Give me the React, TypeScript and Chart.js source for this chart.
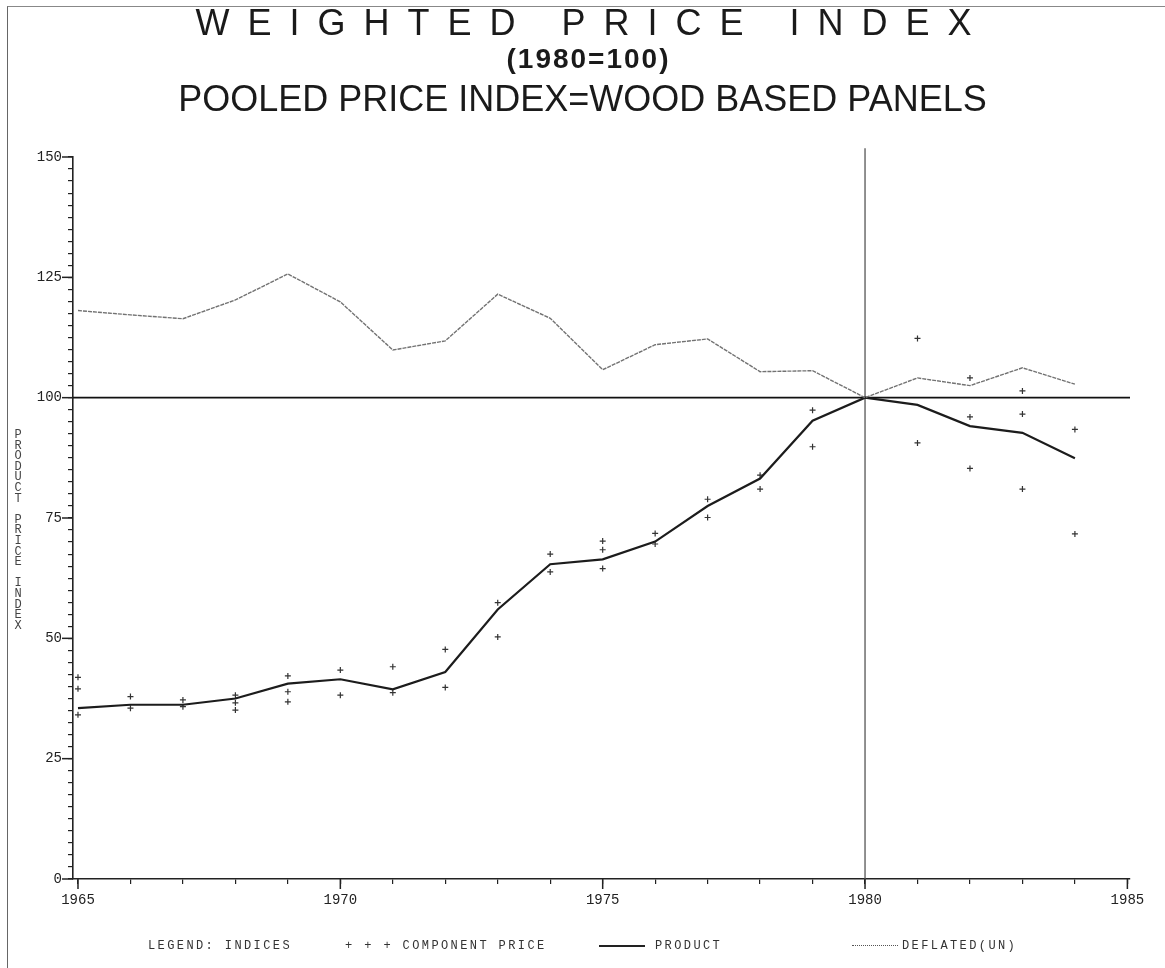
import React, { useEffect, useRef } from "react";
import { Chart, registerables } from "chart.js";

Chart.register(...registerables);

// ---- data ----
const years = [1965, 1966, 1967, 1968, 1969, 1970, 1971, 1972, 1973, 1974, 1975, 1976, 1977, 1978, 1979, 1980, 1981, 1982, 1983, 1984];
const productIndex = [35.5, 36.2, 36.2, 37.5, 40.6, 41.5, 39.4, 43.0, 56.0, 65.4, 66.4, 70.1, 77.5, 83.2, 95.2, 100, 98.5, 94.1, 92.7, 87.4];
const deflatedIndex = [118.1, 117.2, 116.4, 120.3, 125.7, 119.9, 109.9, 111.8, 121.5, 116.5, 105.8, 111.0, 112.2, 105.4, 105.6, 100, 104.1, 102.5, 106.2, 102.8];
const componentYears = [
  1965, 1965, 1965, 1966, 1966, 1967, 1967, 1968, 1968, 1968, 1969, 1969, 1969,
  1970, 1970, 1971, 1971, 1972, 1972, 1973, 1973, 1974, 1974, 1975, 1975, 1975,
  1976, 1976, 1977, 1977, 1978, 1978, 1979, 1979, 1981, 1981, 1982, 1982, 1982,
  1983, 1983, 1983, 1984, 1984,
];
const componentValues = [
  41.9, 39.5, 34.1, 37.9, 35.5, 37.2, 35.8, 38.2, 36.6, 35.1, 42.2, 38.9, 36.8,
  43.4, 38.2, 44.1, 38.7, 47.7, 39.8, 57.4, 50.3, 67.5, 63.8, 70.2, 68.4, 64.5,
  71.8, 69.6, 78.9, 75.1, 83.9, 81.0, 97.4, 89.8, 112.3, 90.6, 104.1, 96.0, 85.3,
  101.4, 96.6, 81.0, 93.4, 71.7,
];
const baseYear = [1980];
const baseValue = [100];
const xRange = [1964.905, 1985.05];
const yRange = [0, 150];
const yMajorTicks = [0, 25, 50, 75, 100, 125, 150];
const xMajorTicks = [1965, 1970, 1975, 1980, 1985];
const xTickYears = [1965, 1966, 1967, 1968, 1969, 1970, 1971, 1972, 1973, 1974, 1975, 1976, 1977, 1978, 1979, 1980, 1981, 1982, 1983, 1984, 1985];

const MONO = '"Liberation Mono", "DejaVu Sans Mono", monospace';
const SANS = '"Liberation Sans", Arial, sans-serif';

const majorTickPlugin = {
  id: "majorTicks",
  afterDraw(chart: any) {
    const { ctx, chartArea } = chart;
    const x = chart.scales.x;
    const y = chart.scales.y;
    ctx.save();
    ctx.strokeStyle = "#222";
    ctx.lineWidth = 1.5;
    yMajorTicks.forEach((v) => {
      const py = y.getPixelForValue(v);
      ctx.beginPath();
      ctx.moveTo(chartArea.left - 11, py);
      ctx.lineTo(chartArea.left, py);
      ctx.stroke();
    });
    xMajorTicks.forEach((v) => {
      const px = x.getPixelForValue(v);
      ctx.beginPath();
      ctx.moveTo(px, chartArea.bottom);
      ctx.lineTo(px, chartArea.bottom + 10);
      ctx.stroke();
    });
    ctx.restore();
  },
};

export default function App() {
  const canvasRef = useRef<HTMLCanvasElement | null>(null);

  useEffect(() => {
    if (!canvasRef.current) return;
    const chart = new Chart(canvasRef.current, {
      type: "line",
      data: {
        datasets: [
          {
            label: "DEFLATED(UN)",
            data: years.map((yr, i) => ({ x: yr, y: deflatedIndex[i] })),
            borderColor: "#727272",
            borderWidth: 1.4,
            borderDash: [4, 1],
            pointRadius: 0,
            tension: 0,
          },
          {
            label: "PRODUCT",
            data: years.map((yr, i) => ({ x: yr, y: productIndex[i] })),
            borderColor: "#1c1c1c",
            borderWidth: 2.2,
            pointRadius: 0,
            tension: 0,
          },
          {
            label: "COMPONENT PRICE",
            data: componentYears.map((yr, i) => ({ x: yr, y: componentValues[i] })),
            showLine: false,
            pointStyle: "cross",
            pointRadius: 3,
            pointBorderWidth: 1.2,
            borderColor: "#333",
            backgroundColor: "#333",
          },
          {
            label: "base 100",
            data: [
              { x: xRange[0], y: baseValue[0] },
              { x: xRange[1], y: baseValue[0] },
            ],
            borderColor: "#111",
            borderWidth: 1.6,
            pointRadius: 0,
          },
          {
            label: "base year",
            data: [
              { x: baseYear[0], y: yRange[0] },
              { x: baseYear[0], y: yRange[1] + 1.8 },
            ],
            borderColor: "#555",
            borderWidth: 1.3,
            pointRadius: 0,
            clip: false as any,
          },
        ],
      },
      options: {
        animation: false,
        responsive: false,
        maintainAspectRatio: false,
        layout: { padding: { top: 157, right: 35, left: 0, bottom: 0 } },
        plugins: {
          legend: { display: false },
          tooltip: { enabled: false },
          title: { display: false },
        },
        scales: {
          x: {
            type: "linear",
            min: xRange[0],
            max: xRange[1],
            afterBuildTicks: (s: any) => {
              s.ticks = xTickYears.map((v) => ({ value: v }));
            },
            afterFit: (s: any) => {
              s.height = 89;
            },
            ticks: {
              autoSkip: false,
              maxRotation: 0,
              padding: 8,
              color: "#222",
              font: { family: MONO, size: 14 },
              callback: (v: any) => (Number(v) % 5 === 0 ? String(v) : ""),
            },
            grid: { drawOnChartArea: false, drawTicks: true, tickLength: 5, color: "#222", lineWidth: 1.2 },
            border: { display: true, color: "#222", width: 1.6 },
          },
          y: {
            type: "linear",
            min: yRange[0],
            max: yRange[1],
            afterFit: (s: any) => {
              s.width = 73;
            },
            ticks: {
              stepSize: 2.5,
              autoSkip: false,
              maxTicksLimit: 100,
              padding: 6,
              color: "#222",
              font: { family: MONO, size: 14 },
              callback: (v: any) => (Math.abs(Number(v) % 25) < 1e-6 ? String(v) : ""),
            },
            grid: { drawOnChartArea: false, drawTicks: true, tickLength: 5, color: "#222", lineWidth: 1.2 },
            border: { display: true, color: "#222", width: 1.6 },
          },
        },
      },
      plugins: [majorTickPlugin],
    });
    return () => chart.destroy();
  }, []);

  const legendText: React.CSSProperties = {
    position: "absolute",
    top: 939,
    fontFamily: MONO,
    fontSize: 12,
    letterSpacing: "2.4px",
    color: "#333",
    whiteSpace: "pre",
    lineHeight: "14px",
  };

  return (
    <div style={{ position: "fixed", left: 0, top: 0, width: 1165, height: 968, background: "#fff", overflow: "hidden" }}>
      <div style={{ position: "absolute", left: 7, top: 6, right: 0, bottom: 0, borderLeft: "1.5px solid #666", borderTop: "1.5px solid #888" }} />
      <canvas ref={canvasRef} width={1165} height={968} style={{ position: "absolute", left: 0, top: 0, width: 1165, height: 968 }} />
      <div style={{ position: "absolute", left: 0, top: 5, width: 1165, textAlign: "center", fontFamily: SANS, fontSize: 36, lineHeight: "36px", letterSpacing: "18px", paddingLeft: 20, boxSizing: "border-box", color: "#1a1a1a" }}>
        WEIGHTED PRICE INDEX
      </div>
      <div style={{ position: "absolute", left: 0, top: 45, width: 1165, textAlign: "center", fontFamily: SANS, fontSize: 28, lineHeight: "28px", fontWeight: 700, letterSpacing: "2px", paddingLeft: 12, boxSizing: "border-box", color: "#1a1a1a" }}>
        (1980=100)
      </div>
      <div style={{ position: "absolute", left: 0, top: 81, width: 1165, textAlign: "center", fontFamily: SANS, fontSize: 36, lineHeight: "36px", color: "#1a1a1a" }}>
        POOLED PRICE INDEX=WOOD BASED PANELS
      </div>
      <div style={{ position: "absolute", left: 11, top: 428, fontFamily: MONO, fontSize: 12, lineHeight: "14px", letterSpacing: "-3.4px", writingMode: "vertical-lr", textOrientation: "upright", color: "#444", whiteSpace: "pre" }}>
        PRODUCT PRICE INDEX
      </div>
      <div style={{ ...legendText, left: 148 }}>LEGEND: INDICES</div>
      <div style={{ ...legendText, left: 345 }}>+ + + COMPONENT PRICE</div>
      <div style={{ position: "absolute", left: 599, top: 945, width: 46, height: 0, borderTop: "2px solid #222" }} />
      <div style={{ ...legendText, left: 655 }}>PRODUCT</div>
      <div style={{ position: "absolute", left: 852, top: 945, width: 46, height: 0, borderTop: "1.5px dotted #555" }} />
      <div style={{ ...legendText, left: 902 }}>DEFLATED(UN)</div>
    </div>
  );
}
